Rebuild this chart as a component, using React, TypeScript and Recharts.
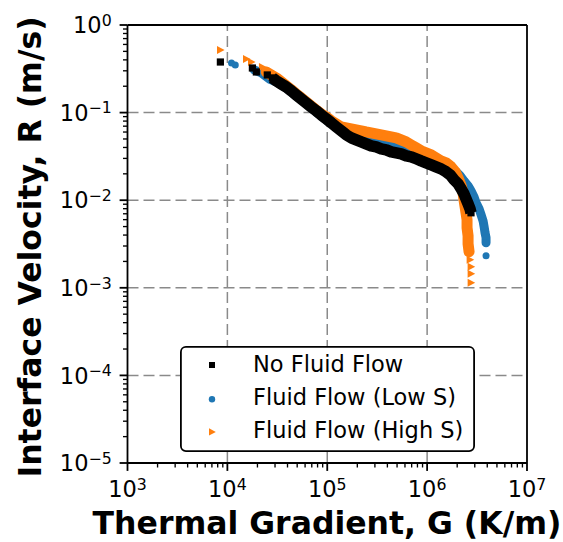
import React from 'react';
import { ScatterChart, Scatter, XAxis, YAxis, ReferenceLine, Legend } from 'recharts';

// ---------- data ----------
const NO_FLOW_G = [8510, 17800, 19500, 25100, 28200, 30900, 34700, 38900, 43700, 49000, 55000, 61700, 69200, 77600, 87100, 97700, 110000, 123000, 138000, 155000, 174000, 195000, 219000, 245000, 275000, 309000, 347000, 389000, 437000, 490000, 550000, 617000, 692000, 776000, 871000, 977000, 1100000, 1230000, 1380000, 1550000, 1700000, 1860000, 2040000, 2190000, 2340000, 2450000, 2570000, 2690000, 2750000];
const NO_FLOW_R = [0.378, 0.323, 0.291, 0.269, 0.249, 0.230, 0.212, 0.196, 0.177, 0.159, 0.143, 0.129, 0.116, 0.105, 0.0941, 0.0848, 0.0763, 0.0687, 0.0619, 0.0557, 0.0515, 0.0488, 0.0463, 0.0440, 0.0417, 0.0406, 0.0386, 0.0376, 0.0356, 0.0347, 0.0338, 0.0321, 0.0313, 0.0297, 0.0281, 0.0267, 0.0253, 0.0240, 0.0228, 0.0211, 0.0195, 0.0171, 0.0154, 0.0135, 0.0118, 0.0104, 0.0091, 0.00798, 0.00718];
const NO_FLOW_DENSE = [4, 49];

const LOW_S_G = [11000, 12000, 18600, 21900, 26300, 30900, 34700, 38900, 43700, 49000, 55000, 61700, 69200, 77600, 87100, 97700, 110000, 123000, 138000, 155000, 174000, 195000, 219000, 245000, 275000, 309000, 347000, 389000, 437000, 490000, 550000, 617000, 692000, 776000, 871000, 977000, 1100000, 1230000, 1380000, 1550000, 1740000, 1950000, 2140000, 2340000, 2570000, 2750000, 2950000, 3090000, 3310000, 3470000, 3630000, 3720000, 3800000, 3890000, 3890000, 3890000];
const LOW_S_R = [0.369, 0.350, 0.307, 0.284, 0.242, 0.224, 0.207, 0.191, 0.172, 0.155, 0.140, 0.126, 0.113, 0.102, 0.0917, 0.0825, 0.0743, 0.0687, 0.0635, 0.0587, 0.0557, 0.0528, 0.0515, 0.0488, 0.0476, 0.0463, 0.0451, 0.0440, 0.0428, 0.0417, 0.0396, 0.0376, 0.0356, 0.0338, 0.0321, 0.0304, 0.0289, 0.0274, 0.0260, 0.0247, 0.0228, 0.0211, 0.0190, 0.0166, 0.0146, 0.0128, 0.0109, 0.00934, 0.00798, 0.00682, 0.00582, 0.00497, 0.00425, 0.00373, 0.00327, 0.00232];
const LOW_S_DENSE = [2, 55];

const HIGH_S_G = [8510, 15500, 17400, 22400, 24500, 27500, 30900, 34700, 38900, 43700, 49000, 55000, 61700, 69200, 77600, 87100, 97700, 110000, 123000, 138000, 155000, 174000, 195000, 219000, 245000, 275000, 309000, 347000, 389000, 437000, 490000, 550000, 617000, 692000, 776000, 871000, 977000, 1100000, 1230000, 1380000, 1550000, 1740000, 1910000, 2040000, 2190000, 2290000, 2340000, 2400000, 2450000, 2510000, 2510000, 2570000, 2570000, 2630000, 2690000, 2750000, 2750000, 2750000];
const HIGH_S_R = [0.519, 0.410, 0.378, 0.332, 0.291, 0.269, 0.249, 0.224, 0.202, 0.182, 0.163, 0.147, 0.132, 0.119, 0.107, 0.0966, 0.0893, 0.0804, 0.0743, 0.0687, 0.0669, 0.0652, 0.0635, 0.0619, 0.0602, 0.0587, 0.0572, 0.0557, 0.0542, 0.0528, 0.0515, 0.0488, 0.0463, 0.0428, 0.0396, 0.0366, 0.0347, 0.0329, 0.0304, 0.0281, 0.0267, 0.0240, 0.0211, 0.0180, 0.0146, 0.0121, 0.0101, 0.00841, 0.00718, 0.00598, 0.00484, 0.00393, 0.00318, 0.00258, 0.00209, 0.00174, 0.00145, 0.00114];
const HIGH_S_DENSE = [4, 54];

const SERIES_NAMES = ['No Fluid Flow', 'Fluid Flow (Low S)', 'Fluid Flow (High S)'];
const X_DECADES = [1e3, 1e4, 1e5, 1e6, 1e7];
const Y_DECADES = [1e-5, 1e-4, 1e-3, 1e-2, 1e-1, 1];
const MINOR_STEPS = [2, 3, 4, 5, 6, 7, 8, 9];

const toPoints = (g: number[], r: number[]) => g.map((v, i) => ({ g: v, r: r[i] }));
const noFlow = toPoints(NO_FLOW_G, NO_FLOW_R);
const lowS = toPoints(LOW_S_G, LOW_S_R);
const highS = toPoints(HIGH_S_G, HIGH_S_R);

const withMinor = (decades: number[]) => {
  const out: number[] = [];
  decades.forEach((d, i) => {
    out.push(d);
    if (i < decades.length - 1) MINOR_STEPS.forEach((m) => out.push(d * m));
  });
  return out;
};
const X_TICKS = withMinor(X_DECADES);
const Y_TICKS = withMinor(Y_DECADES);

// ---------- styling ----------
const FONT = 'DejaVu Sans';
const BLACK = '#000000';
const BLUE = '#1f77b4';
const ORANGE = '#ff7f0e';
const GRID = '#8a8a8a';
const TICK_FS = 22.5;
const SUP_FS = 15.75;
const MAJOR_LEN = 7.9;
const MINOR_LEN = 4.5;

const isDecade = (v: number) => {
  const l = Math.log10(v);
  return Math.abs(l - Math.round(l)) < 1e-6;
};
const expText = (v: number) => {
  const e = Math.round(Math.log10(v));
  return e < 0 ? '\u2212' + String(-e) : String(e);
};

const XTick = (props: any) => {
  const { x, y, payload } = props;
  const v = payload.value;
  const major = isDecade(v);
  return (
    <g>
      <line x1={x} x2={x} y1={y} y2={y + (major ? MAJOR_LEN : MINOR_LEN)} stroke={BLACK} strokeWidth={major ? 1.8 : 1.35} />
      {major && (
        <text x={x} y={y + 33.5} textAnchor="middle" fontFamily={FONT} fontSize={TICK_FS} fill={BLACK}>
          <tspan>10</tspan>
          <tspan dy={-6.5} fontSize={SUP_FS}>{expText(v)}</tspan>
        </text>
      )}
    </g>
  );
};

const YTick = (props: any) => {
  const { x, y, payload } = props;
  const v = payload.value;
  const major = isDecade(v);
  return (
    <g>
      <line x1={x - (major ? MAJOR_LEN : MINOR_LEN)} x2={x} y1={y} y2={y} stroke={BLACK} strokeWidth={major ? 1.8 : 1.35} />
      {major && (
        <text x={x - 15.8} y={y + 8.2} textAnchor="end" fontFamily={FONT} fontSize={TICK_FS} fill={BLACK}>
          <tspan>10</tspan>
          <tspan dy={-7.5} fontSize={SUP_FS}>{expText(v)}</tspan>
        </text>
      )}
    </g>
  );
};

const SquareShape = (props: any) => {
  const { cx, cy } = props;
  if (cx == null || cy == null) return null;
  return <rect x={cx - 3.6} y={cy - 3.6} width={7.2} height={7.2} fill={BLACK} />;
};
const CircleShape = (props: any) => {
  const { cx, cy } = props;
  if (cx == null || cy == null) return null;
  return <circle cx={cx} cy={cy} r={3.5} fill={BLUE} />;
};
const TriangleShape = (props: any) => {
  const { cx, cy } = props;
  if (cx == null || cy == null) return null;
  return <polygon points={`${cx - 3.4},${cy - 4} ${cx + 4.2},${cy} ${cx - 3.4},${cy + 4}`} fill={ORANGE} />;
};
const NoShape = () => null;

const LegendBox = () => {
  const rows = [
    { c: 19, b: 25.9 },
    { c: 53.3, b: 59.2 },
    { c: 85.9, b: 91.9 },
  ];
  return (
    <svg width={295} height={106} style={{ display: 'block' }}>
      <rect x={0.9} y={0.9} width={293.2} height={104.2} rx={5} ry={5} fill="#ffffff" stroke={BLACK} strokeWidth={1.8} />
      <rect x={32 - 3} y={rows[0].c - 3} width={6} height={6} fill={BLACK} />
      <circle cx={32} cy={rows[1].c} r={3.2} fill={BLUE} />
      <polygon points={`${32 - 3},${rows[2].c - 3.6} ${32 + 3.8},${rows[2].c} ${32 - 3},${rows[2].c + 3.6}`} fill={ORANGE} />
      {SERIES_NAMES.map((n, i) => (
        <text key={n} x={73} y={rows[i].b} fontFamily={FONT} fontSize={TICK_FS} fill={BLACK}>{n}</text>
      ))}
    </svg>
  );
};

export default function App() {
  return (
    <div style={{ position: 'absolute', left: 0, top: 0, width: 563, height: 542, background: '#ffffff' }}>
      <ScatterChart width={563} height={542} margin={{ top: 25, right: 36, bottom: 0, left: 0 }}>
        <XAxis
          type="number"
          dataKey="g"
          scale="log"
          domain={[1e3, 1e7]}
          ticks={X_TICKS}
          interval={0}
          tick={<XTick />}
          tickLine={false}
          tickSize={0}
          tickMargin={0}
          axisLine={{ stroke: BLACK, strokeWidth: 1.8 }}
          height={79}
          allowDataOverflow
          label={() => (
            <text x={327} y={533.5} textAnchor="middle" fontFamily={FONT} fontWeight="bold" fontSize={31.5} fill={BLACK}>
              Thermal Gradient, G (K/m)
            </text>
          )}
        />
        <YAxis
          type="number"
          dataKey="r"
          scale="log"
          domain={[1e-5, 1]}
          ticks={Y_TICKS}
          interval={0}
          tick={<YTick />}
          tickLine={false}
          tickSize={0}
          tickMargin={0}
          axisLine={{ stroke: BLACK, strokeWidth: 1.8 }}
          width={127.5}
          allowDataOverflow
          label={() => (
            <text x={41} y={247} transform="rotate(-90, 41, 247)" textAnchor="middle" fontFamily={FONT} fontWeight="bold" fontSize={31.5} fill={BLACK}>
              Interface Velocity, R (m/s)
            </text>
          )}
        />
        {X_DECADES.slice(1, -1).map((v) => (
          <ReferenceLine key={'gx' + v} x={v} stroke={GRID} strokeWidth={1.5} strokeDasharray="11 5" />
        ))}
        {Y_DECADES.slice(1, -1).map((v) => (
          <ReferenceLine key={'gy' + v} y={v} stroke={GRID} strokeWidth={1.5} strokeDasharray="11 5" />
        ))}
        <ReferenceLine y={1} stroke={BLACK} strokeWidth={1.8} />
        <ReferenceLine x={1e7} stroke={BLACK} strokeWidth={1.8} />

        <Scatter
          data={lowS.slice(LOW_S_DENSE[0], LOW_S_DENSE[1])}
          fill={BLUE}
          shape={<NoShape />}
          line={{ stroke: BLUE, strokeWidth: 9, strokeLinecap: 'round', strokeLinejoin: 'round' }}
          isAnimationActive={false}
        />
        <Scatter name={SERIES_NAMES[1]} data={lowS} fill={BLUE} shape={<CircleShape />} isAnimationActive={false} />

        <Scatter
          data={highS.slice(HIGH_S_DENSE[0], HIGH_S_DENSE[1])}
          fill={ORANGE}
          shape={<NoShape />}
          line={{ stroke: ORANGE, strokeWidth: 11, strokeLinecap: 'round', strokeLinejoin: 'round' }}
          isAnimationActive={false}
        />
        <Scatter name={SERIES_NAMES[2]} data={highS} fill={ORANGE} shape={<TriangleShape />} isAnimationActive={false} />

        <Scatter
          data={noFlow.slice(NO_FLOW_DENSE[0], NO_FLOW_DENSE[1])}
          fill={BLACK}
          shape={<NoShape />}
          line={{ stroke: BLACK, strokeWidth: 11.5, strokeLinecap: 'butt', strokeLinejoin: 'round' }}
          isAnimationActive={false}
        />
        <Scatter name={SERIES_NAMES[0]} data={noFlow} fill={BLACK} shape={<SquareShape />} isAnimationActive={false} />

        <Legend
          layout="horizontal"
          verticalAlign="middle"
          align="center"
          wrapperStyle={{ position: 'absolute', left: 180, top: 346, width: 295, height: 106 }}
          content={() => <LegendBox />}
        />
      </ScatterChart>
    </div>
  );
}
